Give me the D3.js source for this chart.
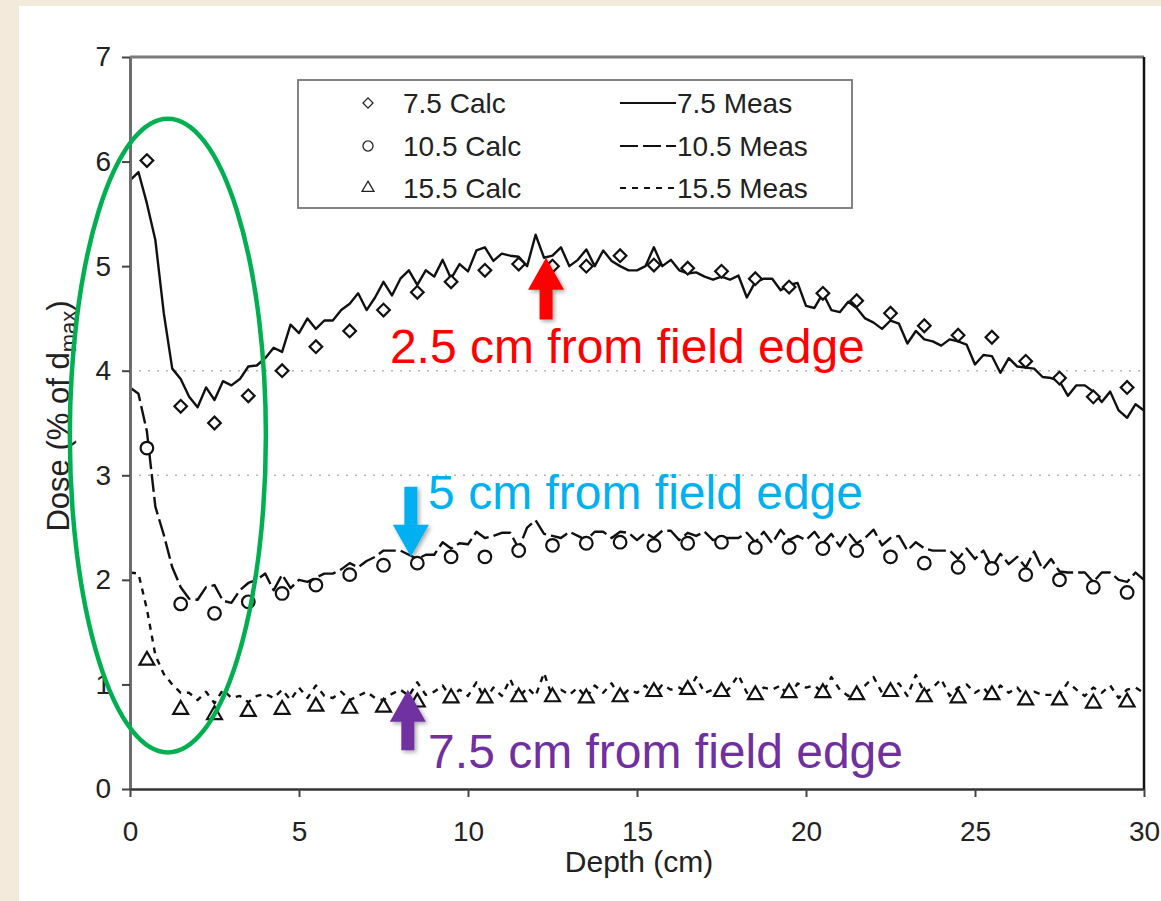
<!DOCTYPE html>
<html>
<head>
<meta charset="utf-8">
<script src="https://cdn.jsdelivr.net/npm/d3@7/dist/d3.min.js"></script>
<style>
  html, body { margin: 0; padding: 0; background: #f3eadb; }
  svg { display: block; font-family: "Liberation Sans", Arial, sans-serif; }
</style>
</head>
<body>
<div id="chart"></div>
<script>
// calculated points, one per cm
var calcDepth = [0.5, 1.5, 2.5, 3.5, 4.5, 5.5, 6.5, 7.5, 8.5, 9.5, 10.5, 11.5, 12.5, 13.5, 14.5,
  15.5, 16.5, 17.5, 18.5, 19.5, 20.5, 21.5, 22.5, 23.5, 24.5, 25.5, 26.5, 27.5, 28.5, 29.5];
var calc75 = [6.01, 3.66, 3.50, 3.76, 4.00, 4.23, 4.38, 4.58, 4.75, 4.85, 4.96, 5.02, 5.00, 5.00, 5.10,
  5.01, 4.98, 4.95, 4.88, 4.80, 4.74, 4.67, 4.55, 4.43, 4.34, 4.32, 4.09, 3.93, 3.75, 3.84];
var calc105 = [3.26, 1.77, 1.68, 1.79, 1.87, 1.95, 2.05, 2.14, 2.16, 2.22, 2.22, 2.28, 2.33, 2.35, 2.36,
  2.33, 2.35, 2.36, 2.31, 2.31, 2.30, 2.28, 2.22, 2.16, 2.12, 2.11, 2.05, 2.00, 1.93, 1.88];
var calc155 = [1.23, 0.76, 0.71, 0.74, 0.76, 0.79, 0.77, 0.78, 0.83, 0.87, 0.87, 0.88, 0.88, 0.87, 0.88,
  0.93, 0.95, 0.93, 0.90, 0.92, 0.92, 0.90, 0.93, 0.88, 0.87, 0.90, 0.85, 0.85, 0.82, 0.83];

// measured profiles, read every 0.25 cm
var measDepth = [0, 0.25, 0.5, 0.75, 1, 1.25, 1.5, 1.75, 2, 2.25, 2.5, 2.75, 3, 3.25, 3.5, 3.75,
  4, 4.25, 4.5, 4.75, 5, 5.25, 5.5, 5.75, 6, 6.25, 6.5, 6.75, 7, 7.25, 7.5, 7.75,
  8, 8.25, 8.5, 8.75, 9, 9.25, 9.5, 9.75, 10, 10.25, 10.5, 10.75, 11, 11.25, 11.5, 11.75,
  12, 12.25, 12.5, 12.75, 13, 13.25, 13.5, 13.75, 14, 14.25, 14.5, 14.75, 15, 15.25, 15.5, 15.75,
  16, 16.25, 16.5, 16.75, 17, 17.25, 17.5, 17.75, 18, 18.25, 18.5, 18.75, 19, 19.25, 19.5, 19.75,
  20, 20.25, 20.5, 20.75, 21, 21.25, 21.5, 21.75, 22, 22.25, 22.5, 22.75, 23, 23.25, 23.5, 23.75,
  24, 24.25, 24.5, 24.75, 25, 25.25, 25.5, 25.75, 26, 26.25, 26.5, 26.75, 27, 27.25, 27.5, 27.75,
  28, 28.25, 28.5, 28.75, 29, 29.25, 29.5, 29.75, 30];
var meas75 = [5.82, 5.9, 5.6, 5.25, 4.55, 4.02, 3.92, 3.75,
  3.65, 3.84, 3.72, 3.9, 3.86, 3.92, 4.04, 4.05,
  4.12, 4.22, 4.18, 4.44, 4.36, 4.5, 4.4, 4.48,
  4.48, 4.58, 4.64, 4.74, 4.58, 4.7, 4.85, 4.72,
  4.88, 4.96, 4.82, 4.96, 4.9, 5.06, 4.88, 5.02,
  4.95, 5.15, 5.18, 5.05, 5.12, 5.1, 5.09, 5.0,
  5.3, 5.08, 5.1, 5.18, 5.0, 5.06, 5.16, 5.0,
  5.15, 5.05, 5.0, 4.96, 4.96, 5.0, 5.18, 5.0,
  5.06, 4.96, 4.93, 4.94, 4.9, 4.87, 4.9, 4.87,
  4.91, 4.7, 4.85, 4.88, 4.88, 4.77, 4.82, 4.84,
  4.62, 4.6, 4.74, 4.58, 4.56, 4.66, 4.6, 4.5,
  4.46, 4.4, 4.48, 4.45, 4.26, 4.38, 4.3, 4.28,
  4.24, 4.3, 4.28, 4.25, 4.06, 4.15, 4.14, 3.98,
  4.12, 4.04, 4.03, 4.02, 3.94, 3.93, 3.9, 3.76,
  3.86, 3.86, 3.8, 3.7, 3.8, 3.62, 3.55, 3.68,
  3.62];
var meas105 = [3.84, 3.78, 3.42, 2.7, 2.43, 2.12, 1.93, 1.82,
  1.81, 1.93, 1.95, 1.8, 1.78, 1.9, 1.97, 2.0,
  2.06, 1.9, 2.05, 1.92, 2.0, 1.98, 2.02, 2.06,
  2.06, 2.1, 2.16, 2.12, 2.18, 2.22, 2.28, 2.28,
  2.28, 2.24, 2.2, 2.24, 2.24, 2.36, 2.3, 2.35,
  2.34, 2.46, 2.4, 2.42, 2.45, 2.45, 2.3, 2.5,
  2.57, 2.44, 2.42, 2.4, 2.46, 2.42, 2.38, 2.46,
  2.46, 2.4, 2.46, 2.45, 2.38, 2.45, 2.4, 2.47,
  2.47, 2.38, 2.45, 2.42, 2.46, 2.38, 2.4, 2.4,
  2.4, 2.45, 2.36, 2.46, 2.35, 2.48, 2.38, 2.42,
  2.38, 2.46, 2.35, 2.44, 2.32, 2.45, 2.35, 2.4,
  2.48, 2.33, 2.4, 2.42, 2.28, 2.36, 2.3, 2.28,
  2.28, 2.28, 2.2, 2.3, 2.2, 2.28, 2.12, 2.25,
  2.15, 2.22, 2.12, 2.27, 2.1, 2.2, 2.08, 2.07,
  2.07, 2.07, 1.98, 2.07, 2.07, 2.0, 1.98, 2.07,
  2.0];
var meas155 = [2.07, 2.06, 1.72, 1.28, 1.1, 1.0, 0.92, 0.92,
  0.85, 0.93, 0.82, 0.95, 0.87, 0.89, 0.83, 0.89,
  0.91, 0.87, 0.95, 0.85, 0.97, 0.87, 0.99, 0.89,
  0.87, 0.93, 0.85, 0.89, 0.93, 0.87, 0.85, 0.91,
  0.95, 0.89, 1.02, 0.9, 0.93, 0.99, 0.87, 0.95,
  0.89, 1.02, 0.85, 0.97, 0.89, 1.05, 0.87, 0.97,
  0.89, 1.11, 0.87, 0.95, 0.9, 0.97, 0.87, 0.99,
  0.92, 1.01, 0.87, 0.95, 0.92, 0.99, 0.89, 1.0,
  0.95, 0.97, 0.92, 1.07, 0.92, 0.95, 0.89, 0.97,
  1.09, 0.92, 0.89, 0.97, 0.95, 0.99, 0.87, 1.01,
  0.97, 0.99, 0.92, 1.07, 0.95, 0.89, 0.92, 0.99,
  1.07, 0.92, 0.97, 1.01, 0.89, 1.09, 0.92, 0.97,
  1.05, 0.89, 0.97, 1.0, 0.92, 0.97, 0.87, 0.99,
  0.92, 0.97, 0.87, 0.93, 0.9, 0.9, 0.9, 1.02,
  0.95, 0.89, 0.97, 0.92, 0.99, 0.87, 0.95, 0.97,
  0.92];

var xTicks = [0, 5, 10, 15, 20, 25, 30];
var yTicks = [0, 1, 2, 3, 4, 5, 6, 7];
var gridLevels = [3, 4];

var calcSeries = [
  { name: "7.5 Calc", values: calc75, symbol: "diamond" },
  { name: "10.5 Calc", values: calc105, symbol: "circle" },
  { name: "15.5 Calc", values: calc155, symbol: "triangle" }
];
var measSeries = [
  { name: "7.5 Meas", values: meas75, dash: null },
  { name: "10.5 Meas", values: meas105, dash: "18,5" },
  { name: "15.5 Meas", values: meas155, dash: "6,6" }
];

var annotations = [
  { label: "2.5 cm from field edge", colour: "#ff0000", arrowDepth: 12.31, tail: 4.49, tip: 5.08, textDepth: 7.69, textDose: 4.07 },
  { label: "5 cm from field edge", colour: "#00b0f0", arrowDepth: 8.31, tail: 2.89, tip: 2.22, textDepth: 8.82, textDose: 2.68 },
  { label: "7.5 cm from field edge", colour: "#7030a0", arrowDepth: 8.22, tail: 0.37, tip: 0.95, textDepth: 8.82, textDose: 0.2 }
];

var W = 1161, H = 901;
var margin = { left: 130, right: 17, top: 57, bottom: 112 };
var FONT = "'Liberation Sans', Arial, sans-serif";

var svg = d3.select("#chart").append("svg")
  .attr("width", W)
  .attr("height", H)
  .attr("font-family", FONT);

var defs = svg.append("defs");
var shadow = defs.append("filter").attr("id", "shadow")
  .attr("x", "-30%").attr("y", "-30%").attr("width", "160%").attr("height", "160%");
shadow.append("feDropShadow")
  .attr("dx", 2).attr("dy", 2).attr("stdDeviation", 2)
  .attr("flood-color", "#000").attr("flood-opacity", 0.35);

svg.append("rect").attr("width", W).attr("height", H).attr("fill", "#f3eadb");
svg.append("rect").attr("x", 19).attr("y", 6).attr("width", W - 19).attr("height", H - 6).attr("fill", "#fff");

var x = d3.scaleLinear().domain([0, 30]).range([margin.left, W - margin.right]);
var y = d3.scaleLinear().domain([0, 7]).range([H - margin.bottom, margin.top]);

// faint dotted gridlines
svg.append("g").selectAll("line").data(gridLevels).enter()
  .append("line")
    .attr("x1", x(0)).attr("x2", x(30))
    .attr("y1", d => y(d)).attr("y2", d => y(d))
    .attr("stroke", "#b5b5b5")
    .attr("stroke-width", 1.5)
    .attr("stroke-dasharray", "2,7");

var line = d3.line()
  .x((d, i) => x(measDepth[i]))
  .y(d => y(d));

svg.append("g").selectAll("path").data(measSeries).enter()
  .append("path")
    .attr("d", d => line(d.values))
    .attr("fill", "none")
    .attr("stroke", "#111")
    .attr("stroke-width", 2.4)
    .attr("stroke-linejoin", "round")
    .attr("stroke-dasharray", d => d.dash);

function symbolPath(kind) {
  if (kind == "circle") return d3.symbol(d3.symbolCircle).size(125)();
  if (kind == "triangle") return d3.symbol(d3.symbolTriangle).size(95)();
  return d3.symbol(d3.symbolSquare).size(80)();
}
function symbolTransform(kind, px, py) {
  var t = "translate(" + px + "," + py + ")";
  if (kind == "diamond") t += " rotate(45)";
  return t;
}

calcSeries.forEach(function(s) {
  svg.append("g").selectAll("path").data(s.values).enter()
    .append("path")
      .attr("d", symbolPath(s.symbol))
      .attr("transform", (d, i) => symbolTransform(s.symbol, x(calcDepth[i]), y(d)))
      .attr("fill", "#fff")
      .attr("stroke", "#111")
      .attr("stroke-width", 2.2);
});

// axes
var yAxis = svg.append("g")
  .attr("transform", "translate(" + x(0) + ",0)")
  .call(d3.axisLeft(y).tickValues(yTicks).tickFormat(d3.format("d"))
    .tickSize(8).tickSizeOuter(0).tickPadding(11));
var xAxis = svg.append("g")
  .attr("transform", "translate(0," + y(0) + ")")
  .call(d3.axisBottom(x).tickValues(xTicks).tickFormat(d3.format("d"))
    .tickSize(8).tickSizeOuter(0).tickPadding(24));

[xAxis, yAxis].forEach(function(a) {
  a.attr("font-family", FONT);
  a.selectAll("text").attr("font-size", 28).attr("fill", "#222");
  a.selectAll(".tick line").attr("stroke", "#444").attr("stroke-width", 2);
});
yAxis.select(".domain").attr("stroke", "#6d6d6d").attr("stroke-width", 3);
xAxis.select(".domain").attr("stroke", "#333").attr("stroke-width", 2.5);

// top and right frame
svg.append("line")
  .attr("x1", x(0)).attr("x2", x(30)).attr("y1", y(7)).attr("y2", y(7))
  .attr("stroke", "#7a7a7a").attr("stroke-width", 3);
svg.append("line")
  .attr("x1", x(30)).attr("x2", x(30)).attr("y1", y(7)).attr("y2", y(0))
  .attr("stroke", "#111").attr("stroke-width", 2.5);

// axis titles
svg.append("text")
  .attr("x", (x(0) + x(30)) / 2 + 2)
  .attr("y", 872)
  .attr("text-anchor", "middle")
  .attr("font-size", 30)
  .attr("fill", "#222")
  .text("Depth (cm)");

var yTitle = svg.append("text")
  .attr("transform", "translate(69," + 416 + ") rotate(-90)")
  .attr("text-anchor", "middle")
  .attr("font-size", 31)
  .attr("fill", "#222");
yTitle.append("tspan").text("Dose (% of d");
yTitle.append("tspan").attr("font-size", 22).attr("dy", 7).text("max");
yTitle.append("tspan").attr("dy", -7).text(")");

// legend
var legend = svg.append("g");
legend.append("rect")
  .attr("x", 298).attr("y", 80).attr("width", 554).attr("height", 128)
  .attr("fill", "#fff").attr("stroke", "#777").attr("stroke-width", 1.8);

var rowY = [103, 146, 188];
calcSeries.forEach(function(s, i) {
  legend.append("path")
    .attr("d", symbolPath(s.symbol))
    .attr("transform", symbolTransform(s.symbol, 368, rowY[i]) + " scale(0.8)")
    .attr("fill", "#fff").attr("stroke", "#222").attr("stroke-width", 1.6);
  legend.append("text")
    .attr("x", 403).attr("y", rowY[i] + 10)
    .attr("font-size", 28).attr("fill", "#222")
    .text(s.name);
});
measSeries.forEach(function(s, i) {
  legend.append("line")
    .attr("x1", 620).attr("x2", 676)
    .attr("y1", rowY[i]).attr("y2", rowY[i])
    .attr("stroke", "#111").attr("stroke-width", 2)
    .attr("stroke-dasharray", s.dash);
  legend.append("text")
    .attr("x", 677).attr("y", rowY[i] + 10)
    .attr("font-size", 28).attr("fill", "#222")
    .text(s.name);
});

// annotations on top of the chart
svg.append("ellipse")
  .attr("cx", x(1.12)).attr("cy", y(3.38))
  .attr("rx", x(1.12 + 2.9) - x(1.12)).attr("ry", y(0) - y(3.03))
  .attr("fill", "none")
  .attr("stroke", "#00b050")
  .attr("stroke-width", 4.5);

function arrowPath(px, yTail, yTip) {
  var dir = yTip < yTail ? 1 : -1;   // 1 = pointing up
  var head = 32, halfHead = 18, halfShaft = 6.5;
  var yBase = yTip + dir * head;
  return "M" + (px - halfShaft) + "," + yTail +
    "L" + (px - halfShaft) + "," + yBase +
    "L" + (px - halfHead) + "," + yBase +
    "L" + px + "," + yTip +
    "L" + (px + halfHead) + "," + yBase +
    "L" + (px + halfShaft) + "," + yBase +
    "L" + (px + halfShaft) + "," + yTail + "Z";
}

annotations.forEach(function(a) {
  svg.append("path")
    .attr("d", arrowPath(x(a.arrowDepth), y(a.tail), y(a.tip)))
    .attr("fill", a.colour)
    .attr("filter", "url(#shadow)");
  svg.append("text")
    .attr("x", x(a.textDepth))
    .attr("y", y(a.textDose))
    .attr("font-size", 48)
    .attr("fill", a.colour)
    .text(a.label);
});
</script>
</body>
</html>
